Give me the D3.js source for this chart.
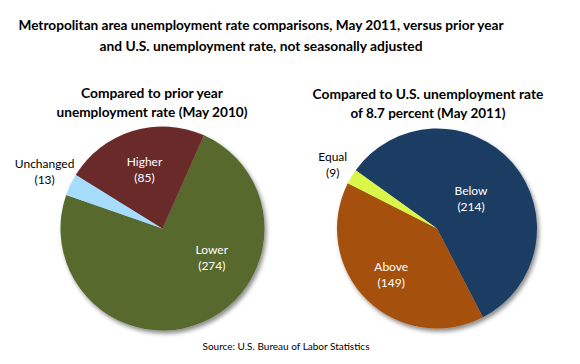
<!DOCTYPE html>
<html>
<head>
<meta charset="utf-8">
<script src="https://cdn.jsdelivr.net/npm/d3@7"></script>
<style>
body{margin:0;background:#fff;}
svg text{font-family:Lato,"Open Sans",sans-serif;}
</style>
</head>
<body>
<div id="chart"></div>
<script>
// data
var titleLines=["Metropolitan area unemployment rate comparisons, May 2011, versus prior year","and U.S. unemployment rate, not seasonally adjusted"];
var prevTitle=["Compared to prior year","unemployment rate (May 2010)"];
var usTitle=["Compared to U.S. unemployment rate","of 8.7 percent (May 2011)"];
var prevCats=["Lower","Unchanged","Higher"];
var prevVals=[274,13,85];
var usCats=["Below","Above","Equal"];
var usVals=[214,149,9];
var sourceText="Source: U.S. Bureau of Labor Statistics";

var W=580,H=364;
var svg=d3.select("#chart").append("svg").attr("width",W).attr("height",H);

var defs=svg.append("defs");
var f=defs.append("filter").attr("id","shadow").attr("x","-20%").attr("y","-20%").attr("width","140%").attr("height","140%");
f.append("feDropShadow").attr("dx",2).attr("dy",3).attr("stdDeviation",2.2).attr("flood-color","#000").attr("flood-opacity",0.45);

// title
svg.append("g").selectAll("text").data(titleLines).enter().append("text")
	.attr("x",261).attr("y",function(d,i){return 30+i*21;})
	.attr("text-anchor","middle").attr("font-size",14).attr("font-weight","bold").attr("fill","#000")
	.attr("textLength",function(d,i){return i==0?485:323;}).attr("lengthAdjust","spacingAndGlyphs")
	.text(function(d){return d;});

function drawPie(opt){
	var g=svg.append("g").attr("transform","translate("+opt.cx+","+opt.cy+")");
	var a0=opt.start*Math.PI/180;
	var pie=d3.pie().sort(null).startAngle(a0).endAngle(a0+2*Math.PI);
	var arcs=pie(opt.vals);
	var arc=d3.arc().innerRadius(0).outerRadius(opt.r);
	var color=d3.scaleOrdinal().domain(opt.cats).range(opt.colors);

	g.append("g").attr("filter","url(#shadow)").selectAll("path").data(arcs).enter().append("path")
		.attr("d",arc).attr("fill",function(d,i){return color(opt.cats[i]);});

	arcs.forEach(function(d,i){
		var cat=opt.cats[i];
		var lr=opt.r*opt.labelR[i];
		var la=d3.arc().innerRadius(lr).outerRadius(lr);
		var p=la.centroid(d);
		var n=opt.nudge[cat]||[0,0];
		var x=p[0]+n[0],y=p[1]+n[1];
		var inside=opt.labelR[i]<1;
		var t=g.append("text").attr("text-anchor","middle").attr("font-size",12)
			.attr("fill",inside?"#fff":"#000");
		t.append("tspan").attr("x",x).attr("y",y-4).text(cat);
		t.append("tspan").attr("x",x).attr("y",y+12).text("("+opt.vals[i]+")");
	});

	svg.append("g").selectAll("text").data(opt.title).enter().append("text")
		.attr("x",opt.tx).attr("y",function(d,i){return opt.ty+i*19;})
		.attr("text-anchor","middle").attr("font-size",13).attr("font-weight","bold").attr("fill","#000")
		.attr("textLength",function(d,i){return opt.tw[i];}).attr("lengthAdjust","spacingAndGlyphs")
		.text(function(d){return d;});
}

drawPie({cx:162.5,cy:228.5,r:102,start:24,cats:prevCats,vals:prevVals,
	colors:["#58692e","#a6dcfc","#6b2b2b"],labelR:[0.6,1.28,0.6],nudge:{"Lower":[25,-27],"Unchanged":[0,0]},
	title:prevTitle,tx:152,ty:98,tw:[142,191]});

drawPie({cx:437,cy:228.5,r:100,start:-54.4,cats:usCats,vals:usVals,
	colors:["#1f3c64","#a5510e","#d9f74a"],labelR:[0.45,0.65,1.22],nudge:{},
	title:usTitle,tx:428,ty:99,tw:[231,155]});

svg.append("text").attr("x",286).attr("y",350).attr("text-anchor","middle")
	.attr("font-size",10).attr("fill","#000").text(sourceText);
</script>
</body>
</html>
